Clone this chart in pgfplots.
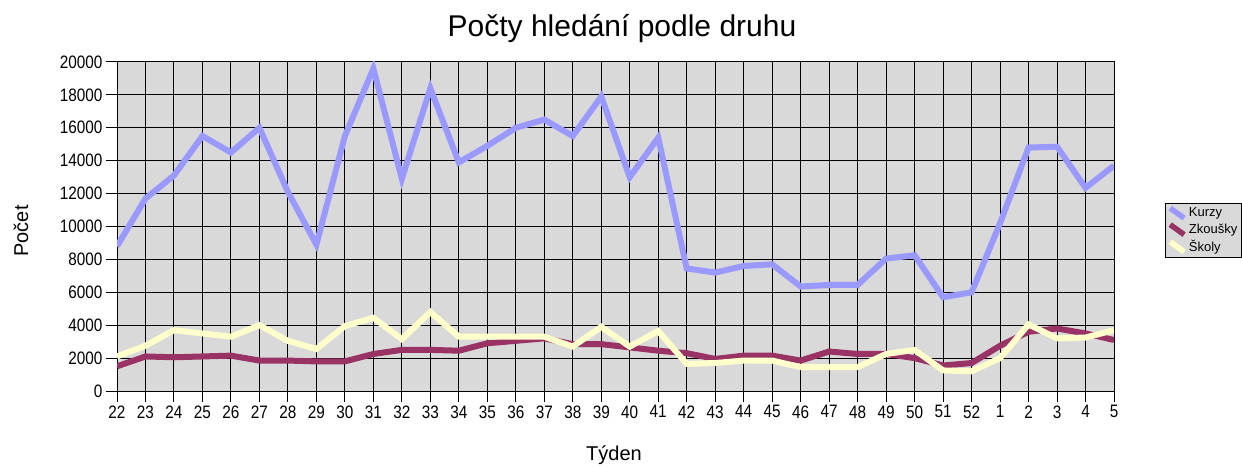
\documentclass[border=0pt]{standalone}
\usepackage{fontspec}
\setmainfont{Liberation Sans}
\newfontfamily\tickfont[FakeStretch=0.85]{Liberation Sans}
\usepackage{pgfplots}
\usepackage{pgfplotstable}
\pgfplotsset{compat=1.18}
\definecolor{bgc}{RGB}{217,217,217}
\definecolor{kurzy}{RGB}{153,153,255}
\definecolor{zkousky}{RGB}{153,51,102}
\definecolor{skoly}{RGB}{255,255,204}
\pgfplotstableread{
x kurzy zkousky skoly
0 8800 1500 2100
1 11700 2100 2750
2 13100 2050 3700
3 15500 2100 3500
4 14500 2150 3300
5 16000 1850 4000
6 12100 1850 3050
7 8900 1800 2550
8 15500 1800 3950
9 19600 2250 4450
10 12900 2500 3150
11 18400 2500 4800
12 13900 2450 3300
13 14900 2900 3300
14 16000 3050 3300
15 16500 3200 3300
16 15500 2850 2700
17 17900 2850 3900
18 13000 2650 2700
19 15400 2450 3650
20 7450 2300 1650
21 7200 1950 1700
22 7600 2150 1850
23 7700 2150 1850
24 6350 1850 1450
25 6450 2400 1450
26 6450 2250 1450
27 8050 2250 2250
28 8250 2000 2500
29 5700 1550 1250
30 6000 1700 1200
31 10200 2750 2000
32 14800 3600 4050
33 14850 3800 3200
34 12350 3500 3250
35 13700 3100 3700
}\datatable
\begin{document}
\begin{tikzpicture}
\useasboundingbox (0,0) rectangle (1242pt,466pt);
\begin{axis}[
  anchor=south west, at={(117pt,75pt)},
  scale only axis, width=997pt, height=329pt,
  xmin=0, xmax=35, ymin=0, ymax=20000,
  axis background/.style={fill=bgc},
  xtick=data,
  xticklabels={22,23,24,25,26,27,28,29,30,31,32,33,34,35,36,37,38,39,40,41,42,43,44,45,46,47,48,49,50,51,52,1,2,3,4,5},
  ytick={0,2000,...,20000},
  xtick pos=bottom, ytick pos=left,
  scaled y ticks=false,
  /pgf/number format/1000 sep={},
  /pgf/number format/assume math mode=true,
  ticklabel style={font=\tickfont\fontsize{18}{20}\selectfont},
  tick align=outside, major tick length=11pt,
  tick style={black, line width=1pt},
  grid=major, major grid style={black, line width=1pt},
  axis line style={black, line width=1pt},
  legend style={at={(1.0512,0.5714)}, anchor=north west, fill=bgc, draw=black, line width=0.8pt,
    font=\fontsize{13}{15}\selectfont, inner sep=2pt, row sep=1pt},
  legend cell align=left,
  legend image code/.code={\draw[#1, line width=5.5pt, line cap=butt] (0pt,5pt) -- (14pt,-5pt);},
]
\addplot[kurzy, line width=6pt] table[x=x, y=kurzy] {\datatable};
\addlegendentry{Kurzy}
\addplot[zkousky, line width=6pt] table[x=x, y=zkousky] {\datatable};
\addlegendentry{Zkoušky}
\addplot[skoly, line width=6pt] table[x=x, y=skoly] {\datatable};
\addlegendentry{Školy}
\end{axis}
\node[anchor=base, font=\fontsize{30}{34}\selectfont] at (622pt,429pt) {Počty hledání podle druhu};
\node[anchor=base, font=\fontsize{20}{24}\selectfont] at (614pt,6pt) {Týden};
\node[anchor=base, rotate=90, font=\fontsize{20}{24}\selectfont] at (28pt,235pt) {Počet};
\end{tikzpicture}
\end{document}
